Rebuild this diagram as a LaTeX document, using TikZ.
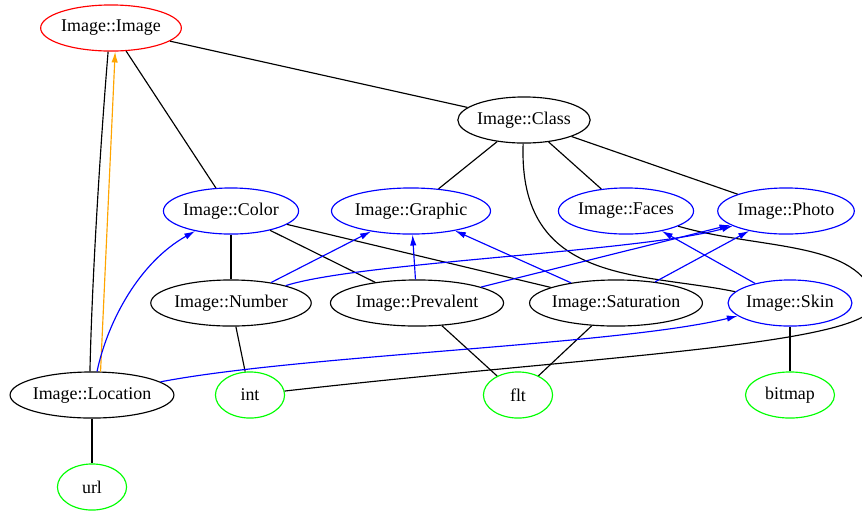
\documentclass[tikz,border=0pt]{standalone}
\usepackage{fontspec}
\setmainfont{Liberation Serif}
\usetikzlibrary{shapes.geometric,arrows.meta}
\definecolor{gvorange}{RGB}{255,165,0}

\begin{document}
\begin{tikzpicture}[x=0.78125pt,y=-0.78125pt,>={Latex[length=8.5pt,width=5pt]},
                    line width=0.9pt,font=\fontsize{14}{16}\selectfont]
  \tikzstyle{every node}=[ellipse,draw=black,text=black,inner xsep=0pt,
                          inner ysep=0pt,minimum width=54pt,minimum height=36pt]
  \tikzstyle{root}=[draw=red]
  \tikzstyle{role}=[draw=blue]
  \tikzstyle{prim}=[draw=green]
  \tikzstyle{uses}=[->,blue]

  \useasboundingbox (0,0) rectangle (862,512);

  \node[root] (Image)      at (111,28)  {Image::Image};
  \node       (Class)      at (524,120) {Image::Class};
  \node[role] (Color)      at (231,211) {Image::Color};
  \node[role] (Graphic)    at (411,211) {Image::Graphic};
  \node[role] (Faces)      at (626,211) {Image::Faces};
  \node[role] (Photo)      at (786,211) {Image::Photo};
  \node       (Number)     at (231,303) {Image::Number};
  \node       (Prevalent)  at (417,303) {Image::Prevalent};
  \node[inner xsep=-2.4pt]
              (Saturation) at (616,303) {Image::Saturation};
  \node[role] (Skin)       at (790,303) {Image::Skin};
  \node[inner xsep=-1pt]
              (Location)   at (92,395)  {Image::Location};
  \node[prim] (int)        at (250,395) {int};
  \node[prim] (flt)        at (518,395) {flt};
  \node[prim,minimum width=69.5pt]
              (bitmap)     at (790,395) {bitmap};
  \node[prim] (url)        at (92,487)  {url};

  \path (Image)      edge (Class)
                     edge (Color)
        (Class)      edge (Graphic)
                     edge (Faces)
                     edge (Photo)
        (Color)      edge (Number)
                     edge (Prevalent)
                     edge (Saturation)
        (Number)     edge (int)
        (Prevalent)  edge (flt)
        (Saturation) edge (flt)
        (Skin)       edge (bitmap)
        (Location)   edge (url);

  \draw (Image.-97) .. controls (100,150) and (92,280) .. (Location.95);
  \draw (Class) .. controls (518,285) and (640,272) .. (Skin);
  \draw (Faces) .. controls (760,250) and (860,240) .. (875,300)
                .. controls (885,345) and (600,355) .. (int);

  \draw[->,gvorange] (Location.70) -- (Image.-80);

  \path[uses] (Number)     edge (Graphic)
              (Prevalent)  edge (Graphic)
                           edge (Photo)
              (Saturation) edge (Graphic)
                           edge (Photo)
              (Skin)       edge (Faces);
  \draw[uses] (Number) .. controls (360,262) and (640,252) .. (Photo);
  \draw[uses] (Location) .. controls (108,320) and (140,262) .. (Color);
  \draw[uses] (Location) .. controls (300,355) and (620,345) .. (Skin);
\end{tikzpicture}
\end{document}
